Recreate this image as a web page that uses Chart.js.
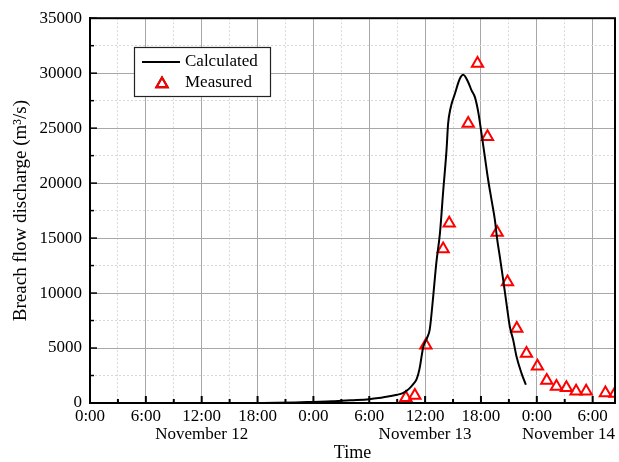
<!DOCTYPE html>
<html>
<head>
<meta charset="utf-8">
<script src="https://cdn.jsdelivr.net/npm/chart.js@4.4.0/dist/chart.umd.min.js"></script>
<style>
  html, body { margin: 0; padding: 0; background: #fff; overflow: hidden; }
  #wrap { width: 619px; height: 462px; }
</style>
</head>
<body>
<div id="wrap"><canvas id="myChart"></canvas></div>
<script>
// hours counted from 0:00 November 12
const calcHours = [18, 20, 22, 24, 26, 27, 28, 30, 31, 32, 33, 33.6, 34, 34.4, 34.7, 35.1, 35.4, 35.8,
  36.2, 36.5, 36.87, 37.2, 37.6, 37.95, 38.3, 38.47, 38.72, 39.2, 39.73, 40.09, 40.63, 40.99, 41.35,
  41.71, 42.06, 42.42, 42.78, 43.14, 43.5, 43.74, 44.03, 44.39, 44.74, 45.1, 45.46, 45.82, 46.35, 46.82];
const calcFlow = [0, 20, 50, 100, 150, 200, 250, 350, 450, 600, 750, 900, 1100, 1400, 1700, 2200, 3100, 5100,
  5900, 6700, 9700, 12700, 15500, 19350, 23000, 25400, 26770, 28130, 29490, 29850, 29180, 28430, 27820,
  26460, 24500, 22380, 20260, 18450, 16630, 14900, 13300, 11190, 9070, 6950, 5740, 4230, 2720, 1660];

const measHours = [33.93, 34.9, 36.08, 37.94, 38.59, 40.63, 41.63, 42.7, 43.74, 44.85, 45.85, 46.89,
  48.07, 49.07, 50.11, 51.18, 52.22, 53.3, 55.37, 56.4];
const measFlow = [470, 690, 5250, 14000, 16350, 25420, 30870, 24220, 15510, 11000, 6770, 4500,
  3350, 2050, 1500, 1380, 1080, 1080, 920, 870];

const xMajorHours = [0, 6, 12, 18, 24, 30, 36, 42, 48, 54];
const xTickLabels = ['0:00', '6:00', '12:00', '18:00', '0:00', '6:00', '12:00', '18:00', '0:00', '6:00'];
const dayLabels = ['November 12', 'November 13', 'November 14'];
const dayLabelHours = [12, 36, 60];

const xMax = 56.4;
const yMax = 35000;
const yMajorStep = 5000;
const yMinorStep = 2500;

Chart.defaults.font.family = '"Liberation Serif", "Times New Roman", serif';
Chart.defaults.color = '#000';

const isMajorX = v => v % 6 === 0;
const isMajorY = v => v % yMajorStep === 0;

// full black frame, inward tick marks, date labels under the axis
const framePlugin = {
  id: 'frame',
  afterDraw(chart) {
    const ctx = chart.ctx;
    const a = chart.chartArea;
    const xs = chart.scales.x, ys = chart.scales.y;
    ctx.save();
    ctx.strokeStyle = '#000';
    ctx.lineWidth = 2;
    ctx.strokeRect(a.left, a.top, a.right - a.left, a.bottom - a.top);

    ctx.lineWidth = 2;
    xs.ticks.forEach(t => {
      const px = xs.getPixelForValue(t.value);
      const len = isMajorX(t.value) ? 7 : 4;
      ctx.beginPath();
      ctx.moveTo(px, a.bottom);
      ctx.lineTo(px, a.bottom - len);
      ctx.stroke();
    });
    ctx.lineWidth = 1.5;
    ys.ticks.forEach(t => {
      const py = ys.getPixelForValue(t.value);
      const len = isMajorY(t.value) ? 7 : 4;
      ctx.beginPath();
      ctx.moveTo(a.left, py);
      ctx.lineTo(a.left + len, py);
      ctx.stroke();
    });

    ctx.fillStyle = '#000';
    ctx.font = '17px "Liberation Serif", "Times New Roman", serif';
    ctx.textBaseline = 'middle';
    ctx.textAlign = 'center';
    dayLabels.forEach((d, i) => {
      const w = ctx.measureText(d).width;
      let cx = xs.getPixelForValue(Math.min(dayLabelHours[i], xMax));
      cx = Math.min(cx, a.right - w / 2);
      ctx.fillText(d, cx, 435);
    });
    ctx.restore();
  }
};

// legend box inside the plot
const boxLegend = {
  id: 'boxLegend',
  afterDraw(chart) {
    const ctx = chart.ctx;
    const ds = chart.data.datasets;
    ctx.save();
    ctx.fillStyle = '#fff';
    ctx.fillRect(134, 47, 136, 50);
    ctx.strokeStyle = '#222';
    ctx.lineWidth = 1.2;
    ctx.strokeRect(134.5, 47.5, 136, 49);

    ctx.strokeStyle = ds[0].borderColor;
    ctx.lineWidth = 2;
    ctx.beginPath();
    ctx.moveTo(142, 62);
    ctx.lineTo(180, 62);
    ctx.stroke();

    Chart.helpers.drawPoint(ctx, {
      pointStyle: 'triangle', radius: 6.5, rotation: 0,
      borderWidth: ds[1].borderWidth
    }, 162, 84);
    ctx.strokeStyle = ds[1].borderColor;
    ctx.stroke();

    ctx.fillStyle = '#000';
    ctx.font = '17px "Liberation Serif", "Times New Roman", serif';
    ctx.textBaseline = 'middle';
    ctx.textAlign = 'left';
    ctx.fillText(ds[0].label, 185, 62);
    ctx.fillText(ds[1].label, 185, 83);
    ctx.restore();
  }
};

const ctx = document.getElementById('myChart');
new Chart(ctx, {
  type: 'line',
  data: {
    datasets: [{
      label: 'Calculated',
      data: calcHours.map((h, i) => ({ x: h, y: calcFlow[i] })),
      borderColor: '#000',
      borderWidth: 2,
      pointRadius: 0,
      cubicInterpolationMode: 'monotone',
      fill: false
    }, {
      label: 'Measured',
      data: measHours.map((h, i) => ({ x: h, y: measFlow[i] })),
      showLine: false,
      pointStyle: 'triangle',
      pointRadius: 6.5,
      borderColor: '#ff0000',
      backgroundColor: 'rgba(0,0,0,0)',
      pointBorderWidth: 2,
      borderWidth: 2
    }]
  },
  options: {
    responsive: true,
    maintainAspectRatio: false,
    animation: false,
    layout: { autoPadding: false, padding: { top: 17, right: 4, left: 0, bottom: 0 } },
    plugins: { legend: { display: false }, tooltip: { enabled: false } },
    scales: {
      x: {
        type: 'linear',
        min: 0,
        max: xMax,
        afterBuildTicks: s => {
          const t = [];
          for (let h = 0; h <= 54; h += 3) t.push({ value: h });
          s.ticks = t;
        },
        afterFit: s => { s.height = 59; },
        ticks: {
          autoSkip: false,
          maxRotation: 0,
          padding: 3,
          font: { size: 17 },
          callback: v => {
            const i = xMajorHours.indexOf(v);
            return i < 0 ? '' : xTickLabels[i];
          }
        },
        grid: {
          drawTicks: false,
          lineWidth: 1,
          color: c => (c.tick && !isMajorX(c.tick.value)) ? '#d8d8d8' : '#a8a8a8'
        },
        border: {
          color: '#000',
          width: 2,
          dash: c => (c.tick && !isMajorX(c.tick.value)) ? [2, 2] : []
        },
        title: {
          display: true,
          text: 'Time',
          font: { size: 18, lineHeight: 1 },
          padding: 0
        }
      },
      y: {
        min: 0,
        max: yMax,
        afterFit: s => { s.width = 90; },
        ticks: {
          stepSize: yMinorStep,
          autoSkip: false,
          padding: 8,
          font: { size: 17 },
          callback: v => isMajorY(v) ? String(v) : ''
        },
        grid: {
          drawTicks: false,
          lineWidth: 1,
          color: c => (c.tick && !isMajorY(c.tick.value)) ? '#d8d8d8' : '#a8a8a8'
        },
        border: {
          color: '#000',
          width: 2,
          dash: c => (c.tick && !isMajorY(c.tick.value)) ? [2, 2] : []
        },
        title: {
          display: true,
          text: 'Breach flow discharge (m³/s)',
          font: { size: 19, lineHeight: 1 },
          padding: { top: 12, bottom: 0 }
        }
      }
    }
  },
  plugins: [framePlugin, boxLegend]
});
</script>
</body>
</html>
